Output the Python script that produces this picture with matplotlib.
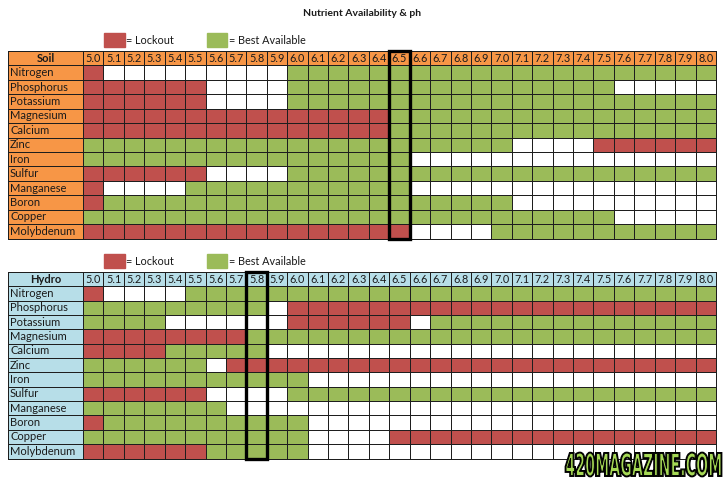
import matplotlib
matplotlib.use("Agg")
import matplotlib.pyplot as plt
import numpy as np
from matplotlib.colors import ListedColormap
from matplotlib.patches import Rectangle, PathPatch
from matplotlib.textpath import TextPath
from matplotlib.font_manager import FontProperties
from matplotlib.transforms import Affine2D, IdentityTransform
import matplotlib.patheffects as pe

plt.rcParams['font.family'] = ['Lato', 'DejaVu Sans']

title = "Nutrient Availability & ph"
ph_labels = ["5.0", "5.1", "5.2", "5.3", "5.4", "5.5", "5.6", "5.7", "5.8", "5.9",
             "6.0", "6.1", "6.2", "6.3", "6.4", "6.5", "6.6", "6.7", "6.8", "6.9",
             "7.0", "7.1", "7.2", "7.3", "7.4", "7.5", "7.6", "7.7", "7.8", "7.9", "8.0"]
nutrients = ["Nitrogen", "Phosphorus", "Potassium", "Magnesium", "Calcium", "Zinc",
             "Iron", "Sulfur", "Manganese", "Boron", "Copper", "Molybdenum"]

# R = Lockout, G = Best Available, W = neither (grouped 5 pH steps per block)
soil_rows = [
    "RWWWW WWWWW GGGGG GGGGG GGGGG GGGGG G",  # Nitrogen
    "RRRRR RWWWW GGGGG GGGGG GGGGG GWWWW W",  # Phosphorus
    "RRRRR RWWWW GGGGG GGGGG GGGGG GGGGG G",  # Potassium
    "RRRRR RRRRR RRRRR GGGGG GGGGG GGGGG G",  # Magnesium
    "RRRRR RRRRR RRRRR GGGGG GGGGG GGGGG G",  # Calcium
    "GGGGG GGGGG GGGGG GGGGG GWWWW RRRRR R",  # Zinc
    "GGGGG GGGGG GGGGG GWWWW WWWWW WWWWW W",  # Iron
    "RRRRR RWWWW GGGGG GGGGG GGGGG GGGGG G",  # Sulfur
    "RWWWW GGGGG GGGGG GWWWW WWWWW WWWWW W",  # Manganese
    "RGGGG GGGGG GGGGG GGGGG GWWWW WWWWW W",  # Boron
    "GGGGG GGGGG GGGGG GGGGG GGGGG GWWWW W",  # Copper
    "RRRRR RRRRR RRRRR RWWWW GGGGG GGGGG G",  # Molybdenum
]
hydro_rows = [
    "RWWWW GGGGG GGGGG GGGGG GGGGG GGGGG G",  # Nitrogen
    "GGGGG GGGGW RRRRR RRRRR RRRRR RRRRR R",  # Phosphorus
    "GGGGW WWWWW RRRRR RWGGG GGGGG GGGGG G",  # Potassium
    "RRRRR RRRGG GGGGG GGGGG GGGGG GGGGG G",  # Magnesium
    "RRRRG GGGGW WWWWW WWWWW WWWWW WWWWW W",  # Calcium
    "GGGGG GWRRR RRRRR RRRRR RRRRR RRRRR R",  # Zinc
    "GGGGG GGGGG GWWWW WWWWW WWWWW WWWWW W",  # Iron
    "RRRRR RWWWW GGGGG GGGGG GGGGG GGGGG G",  # Sulfur
    "GGGGG GGWWW WWWWW WWWWW WWWWW WWWWW W",  # Manganese
    "RGGGG GGGGG GWWWW WWWWW WWWWW WWWWW W",  # Boron
    "GGGGG GGGGG GWWWW RRRRR RRRRR RRRRR R",  # Copper
    "RRRRR RGGGG GWWWW WWWWW WWWWW WWWWW W",  # Molybdenum
]
soil_marker = "6.5"
hydro_marker = "5.8"
legend_labels = ["= Lockout", "= Best Available"]
watermark = "420MAGAZINE.COM"

RED = '#C0504D'
GREEN = '#9BBB59'
WHITE = '#FFFFFF'
ORANGE = '#F79646'
BLUE = '#B7DEE8'
EDGE = '#1e1e1e'
TXT = '#1a1a1a'
code = {'W': 0, 'R': 1, 'G': 2}

fig = plt.figure(figsize=(7.25, 4.79), dpi=100)

fig.text(0.4993, 1 - 13 / 479, title, ha='center', va='center',
         fontsize=7.5, fontweight='bold', color=TXT)

LW = 75 / 20.42  # label column width in column units


def draw_table(rect, name, rows, header_color, marker):
    ax = fig.add_axes(rect)
    ncol = len(ph_labels)
    nrow = len(nutrients)
    grid = np.array([[code[c] for c in r.replace(' ', '')] for r in rows])
    full = np.full((nrow + 1, ncol + 1), 3)
    full[1:, 1:] = grid
    xe = np.concatenate([[-LW], np.arange(ncol + 1)])
    ye = np.arange(-1, nrow + 1)
    cmap = ListedColormap([WHITE, RED, GREEN, header_color])
    mesh = ax.pcolormesh(xe, ye, full, cmap=cmap, vmin=-0.5, vmax=3.5,
                         edgecolors=EDGE, linewidth=0.6)
    mesh.set_clip_on(False)
    ax.set_xlim(-LW, ncol)
    ax.set_ylim(nrow, -1)
    ax.axis('off')
    ax.text(-LW / 2, -0.5, name, ha='center', va='center', fontsize=8,
            fontweight='bold', color=TXT)
    for j, lab in enumerate(ph_labels):
        ax.text(j + 0.5, -0.45, lab, ha='center', va='center', fontsize=7.8, color=TXT)
    for i, n in enumerate(nutrients):
        ax.text(-LW + 0.1, i + 0.5, n, ha='left', va='center', fontsize=8, color=TXT)
    m = ph_labels.index(marker)
    ax.add_patch(Rectangle((m, -1), 1, nrow + 1, fill=False, lw=2.4,
                           ec='black', clip_on=False, zorder=5))
    # legend swatches
    ax.add_patch(Rectangle((1.03, -2.28), 1.02, 1.02, color=RED, clip_on=False))
    ax.text(2.12, -1.75, legend_labels[0], ha='left', va='center', fontsize=7.8, color=TXT)
    ax.add_patch(Rectangle((6.06, -2.28), 1.0, 1.02, color=GREEN, clip_on=False))
    ax.text(7.15, -1.75, legend_labels[1], ha='left', va='center', fontsize=7.8, color=TXT)
    return ax


draw_table([8 / 725, 1 - 238.5 / 479, 708 / 725, 187.5 / 479], "Soil", soil_rows, ORANGE, soil_marker)
draw_table([8 / 725, 1 - 458.5 / 479, 708 / 725, 186.5 / 479], "Hydro", hydro_rows, BLUE, hydro_marker)

# watermark as condensed outlined text (pixel box: x 565..722, y 452..477 from top)
tp = TextPath((0, 0), watermark, size=1,
              prop=FontProperties(family='DejaVu Sans', weight='bold'))
ext = tp.get_extents()
sx = 155 / ext.width
sy = 23 / ext.height
tr = Affine2D().translate(-ext.x0, -ext.y0).scale(sx, sy).translate(566, 479 - 476)
wm = PathPatch(tr.transform_path(tp), facecolor='#A6D955', edgecolor='black',
               lw=0.7, transform=IdentityTransform(), zorder=10)
wm.set_path_effects([pe.withStroke(linewidth=2.0, foreground='black'), pe.Normal()])
fig.patches.append(wm)

fig.savefig("out.png", dpi=100)
